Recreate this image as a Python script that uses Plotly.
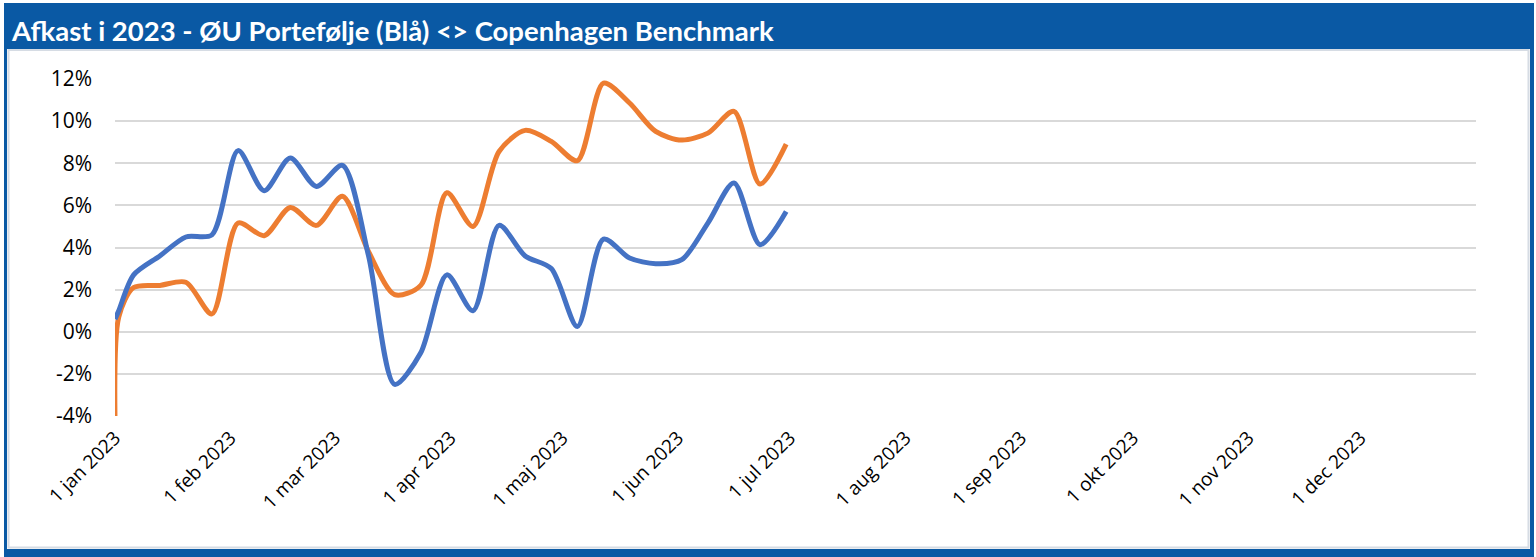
import plotly.graph_objects as go

# ---- data ----
dates = ["2023-01-01", "2023-01-02", "2023-01-06", "2023-01-13", "2023-01-20", "2023-01-27",
         "2023-02-03", "2023-02-10", "2023-02-17", "2023-02-24",
         "2023-03-03", "2023-03-10", "2023-03-17", "2023-03-24", "2023-03-31",
         "2023-04-07", "2023-04-14", "2023-04-21", "2023-04-28",
         "2023-05-05", "2023-05-12", "2023-05-19", "2023-05-26",
         "2023-06-02", "2023-06-09", "2023-06-16", "2023-06-23", "2023-06-30"]
ou_portfolio = [0.6, 1.0, 2.7, 3.6, 4.5, 4.6,
                8.6, 6.7, 8.25, 6.9,
                7.9, 3.6, -2.5, -1.0, 2.7,
                1.0, 5.05, 3.6, 3.0,
                0.25, 4.4, 3.5, 3.23,
                3.42, 5.16, 7.06, 4.13, 5.71]
benchmark = [-4.1, 0.7, 2.1, 2.2, 2.35, 0.85,
             5.16, 4.56, 5.9, 5.05,
             6.43, 3.8, 1.76, 2.2, 6.6,
             5.0, 8.56, 9.56, 9.04,
             8.12, 11.8, 10.86, 9.51,
             9.1, 9.43, 10.46, 7.01, 8.91]

tick_dates = ["2023-01-01", "2023-02-01", "2023-03-01", "2023-04-01", "2023-05-01", "2023-06-01",
              "2023-07-01", "2023-08-01", "2023-09-01", "2023-10-01", "2023-11-01", "2023-12-01"]
tick_labels = ["1 jan 2023", "1 feb 2023", "1 mar 2023", "1 apr 2023", "1 maj 2023", "1 jun 2023",
               "1 jul 2023", "1 aug 2023", "1 sep 2023", "1 okt 2023", "1 nov 2023", "1 dec 2023"]
y_vals = [-4, -2, 0, 2, 4, 6, 8, 10, 12]
y_labels = ["-4%", "-2%", "0%", "2%", "4%", "6%", "8%", "10%", "12%"]

title = "Afkast i 2023 - ØU Portefølje (Blå) <> Copenhagen Benchmark"

# ---- layout geometry (pixels) ----
W, H = 1536, 557
L, R, T, B = 115, 60, 79, 141
PW, PH = W - L - R, H - T - B

def px(x):
    return (x - L) / PW

def py(y):
    return (H - B - y) / PH

BLUE = "#0A59A4"

fig = go.Figure()
fig.add_trace(go.Scatter(x=dates, y=benchmark, mode="lines", name="Copenhagen Benchmark",
                         line=dict(color="#ED7D31", width=5, shape="spline", smoothing=0.8)))
fig.add_trace(go.Scatter(x=dates, y=ou_portfolio, mode="lines", name="ØU Portefølje",
                         line=dict(color="#4472C4", width=5, shape="spline", smoothing=0.8)))

shapes = [
    dict(type="rect", xref="paper", yref="paper", x0=px(5), x1=px(1533), y0=py(49), y1=py(3),
         fillcolor=BLUE, line=dict(width=0), layer="below"),
    dict(type="rect", xref="paper", yref="paper", x0=px(4), x1=px(7), y0=py(552), y1=py(3),
         fillcolor=BLUE, line=dict(width=0), layer="below"),
    dict(type="rect", xref="paper", yref="paper", x0=px(1530), x1=px(1534), y0=py(552), y1=py(3),
         fillcolor=BLUE, line=dict(width=0), layer="below"),
    dict(type="rect", xref="paper", yref="paper", x0=px(4), x1=px(1534), y0=py(557), y1=py(549),
         fillcolor=BLUE, line=dict(width=0), layer="below"),
    dict(type="rect", xref="paper", yref="paper", x0=px(8.5), x1=px(1528.5), y0=py(547.5), y1=py(50),
         fillcolor="rgba(0,0,0,0)", line=dict(width=2, color="#D6DCE4"), layer="below"),
]

fig.update_layout(
    width=W, height=H,
    margin=dict(l=L, r=R, t=T, b=B, pad=0),
    paper_bgcolor="white", plot_bgcolor="white",
    showlegend=False,
    shapes=shapes,
    font=dict(family="Open Sans, sans-serif", size=18, color="#000000"),
    annotations=[dict(text="<b>" + title + "</b>", xref="paper", yref="paper",
                      x=px(9), y=py(31), xanchor="left", yanchor="middle", showarrow=False,
                      font=dict(family="Lato, sans-serif", size=27.5, color="white"))],
    xaxis=dict(type="date", range=["2023-01-01", "2024-01-01"], tickvals=tick_dates,
               ticktext=tick_labels, tickangle=-45, showgrid=False, zeroline=False,
               showline=False, ticks="", ticklabelstandoff=6,
               tickfont=dict(family="Open Sans, sans-serif", size=19), fixedrange=True),
    yaxis=dict(range=[-4, 12], tickvals=y_vals, ticktext=y_labels, showgrid=True,
               gridcolor="#D9D9D9", gridwidth=2, zeroline=False, showline=False, ticks="",
               ticklabelstandoff=22, tickfont=dict(family="Open Sans, sans-serif", size=21),
               fixedrange=True),
)

fig.write_html("out.html", config=dict(displayModeBar=False))
